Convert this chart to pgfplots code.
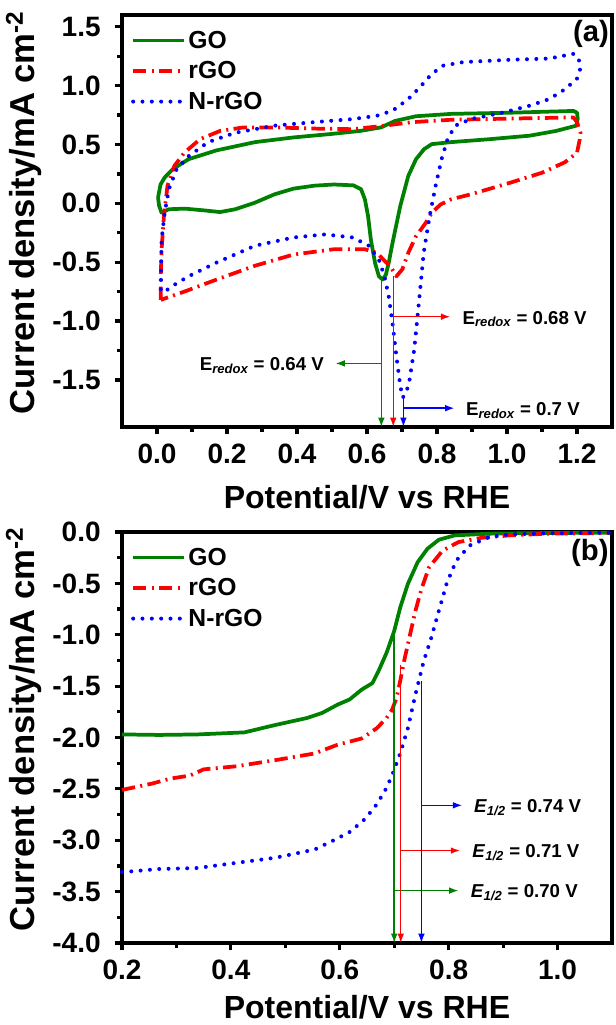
\documentclass[border=0pt]{standalone}
\usepackage{fontspec}
\setmainfont{Liberation Sans}
\usepackage{pgfplots}
\pgfplotsset{compat=1.18}
\usetikzlibrary{arrows.meta}
\definecolor{cgo}{RGB}{0,128,0}
\definecolor{crgo}{RGB}{255,0,0}
\definecolor{cnrgo}{RGB}{0,0,255}

\tikzset{
  go/.style={cgo, line width=2.8pt, line join=round},
  rgo/.style={crgo, line width=2.8pt, dash pattern=on 10pt off 4pt on 1.5pt off 4pt, line join=round},
  nrgo/.style={cnrgo, line width=3pt, line cap=round, dash pattern=on 0pt off 7pt},
  ann/.style={line width=1.1pt, -{Latex[length=7pt,width=5pt]}},
  annfont/.style={font=\bfseries\fontsize{14}{14}\selectfont},
}
\pgfplotsset{
  panel/.style={
    scale only axis, width=367.5pt, clip=false,
    axis line style={line width=3pt},
    tick align=outside, xtick pos=bottom, ytick pos=left,
    major tick length=5.5pt, minor tick length=3.5pt,
    every tick/.style={black, line width=2.4pt},
    minor tick num=1,
    tick label style={font=\bfseries\fontsize{21}{21}\selectfont},
    xticklabel style={yshift=-4pt},
    yticklabel style={xshift=-7pt},
    /pgf/number format/fixed, /pgf/number format/fixed zerofill,
    /pgf/number format/precision=1, /pgf/number format/assume math mode=true,
    xlabel style={font=\bfseries\fontsize{24}{24}\selectfont, anchor=center},
    ylabel style={font=\bfseries\fontsize{26}{26}\selectfont, at={(axis description cs:-0.2,0.52)}, anchor=center},
    legend image code/.code={\draw[##1] (0pt,0pt) -- (38pt,0pt);},
    legend style={draw=none, fill=none, at={(axis description cs:0.01,0.975)}, anchor=north west,
      font=\bfseries\fontsize{18.5}{18.5}\selectfont, row sep=4.5pt},
    legend cell align=left,
  },
}

\begin{document}
\begin{tikzpicture}
\path[use as bounding box] (0,0) rectangle (462pt,-768.75pt);

% ---------------- panel (a) ----------------
\begin{axis}[panel, at={(91.5pt,-11.25pt)}, anchor=north west, height=309pt,
  xmin=-0.1, xmax=1.3, ymin=-1.9, ymax=1.6,
  xtick={0,0.2,...,1.2}, ytick={-1.5,-1,...,1.5},
  xlabel style={at={(axis description cs:0.5,-0.17)}},
  xlabel={Potential/V vs RHE}, ylabel={Current density/mA cm\textsuperscript{-2}}]
\addplot[go] coordinates {
(0.003,0.05) (0.01,0.16) (0.022,0.22) (0.045,0.29) (0.09,0.375) (0.17,0.45) (0.28,0.52)
(0.39,0.56) (0.50,0.59) (0.58,0.615) (0.64,0.645) (0.68,0.70) (0.74,0.74) (0.84,0.76)
(1.01,0.77) (1.19,0.785) (1.2,0.77) (1.202,0.72) (1.198,0.66) (1.14,0.615) (1.065,0.575)
(0.95,0.545) (0.84,0.52) (0.785,0.503) (0.763,0.46) (0.74,0.375) (0.718,0.233) (0.695,-0.023)
(0.673,-0.335) (0.662,-0.506) (0.654,-0.605) (0.645,-0.648) (0.634,-0.62) (0.623,-0.506)
(0.611,-0.307) (0.603,-0.108) (0.594,0.034) (0.583,0.12) (0.561,0.153) (0.505,0.16)
(0.449,0.15) (0.39,0.125) (0.336,0.077) (0.28,0.006) (0.224,-0.05) (0.18,-0.074)
(0.135,-0.06) (0.08,-0.045) (0.034,-0.05) (0.013,-0.08) (0.006,-0.02) (0.003,0.05)};
\addplot[rgo] coordinates {
(0.011,-0.82) (0.011,-0.6) (0.013,-0.40) (0.02,-0.1) (0.03,0.15) (0.05,0.32) (0.078,0.43)
(0.123,0.545) (0.18,0.615) (0.247,0.645) (0.336,0.645) (0.45,0.635) (0.56,0.63) (0.65,0.66)
(0.73,0.69) (0.84,0.71) (1.01,0.72) (1.19,0.73) (1.2,0.69) (1.21,0.6) (1.208,0.545)
(1.2,0.43) (1.166,0.35) (1.1,0.26) (1.01,0.176) (0.897,0.077) (0.84,0.034) (0.81,-0.01)
(0.785,-0.08) (0.768,-0.165) (0.74,-0.28) (0.718,-0.42) (0.701,-0.56) (0.684,-0.62)
(0.67,-0.55) (0.656,-0.506) (0.628,-0.42) (0.594,-0.39) (0.505,-0.39) (0.39,-0.435)
(0.28,-0.53) (0.168,-0.65) (0.078,-0.75) (0.011,-0.82)};
\addplot[nrgo] coordinates {
(0.011,-0.73) (0.013,-0.31) (0.022,-0.08) (0.034,0.12) (0.056,0.29) (0.09,0.40) (0.146,0.52)
(0.224,0.60) (0.336,0.66) (0.449,0.69) (0.56,0.716) (0.628,0.744) (0.673,0.787) (0.718,0.886)
(0.751,0.986) (0.785,1.10) (0.818,1.17) (0.875,1.20) (1.01,1.22) (1.12,1.23) (1.19,1.27)
(1.205,1.23) (1.209,1.14) (1.2,1.06) (1.166,0.97) (1.121,0.886) (1.065,0.83) (0.987,0.77)
(0.897,0.716) (0.852,0.66) (0.83,0.545) (0.813,0.375) (0.796,0.148) (0.779,-0.108)
(0.762,-0.42) (0.749,-0.82) (0.735,-1.24) (0.72,-1.53) (0.71,-1.62) (0.702,-1.65)
(0.695,-1.55) (0.684,-1.3) (0.673,-1.02) (0.662,-0.79) (0.65,-0.62) (0.634,-0.48)
(0.605,-0.36) (0.56,-0.29) (0.48,-0.264) (0.39,-0.29) (0.28,-0.36) (0.168,-0.506)
(0.09,-0.62) (0.045,-0.70) (0.022,-0.75) (0.011,-0.73)};
\legend{GO,rGO,N-rGO}
% annotations
\draw[ann, cgo] (axis cs:0.641,-0.64) -- (axis cs:0.641,-1.9);
\draw[ann, cgo] (axis cs:0.641,-1.36) -- (axis cs:0.51,-1.36);
\draw[ann, crgo] (axis cs:0.675,-0.62) -- (axis cs:0.675,-1.9);
\draw[ann, crgo] (axis cs:0.675,-0.963) -- (axis cs:0.838,-0.963);
\draw[ann, cnrgo] (axis cs:0.704,-1.65) -- (axis cs:0.704,-1.9);
\draw[ann, cnrgo] (axis cs:0.704,-1.74) -- (axis cs:0.85,-1.74);
\node[anchor=east, annfont] at (axis cs:0.49,-1.38) {E\textsubscript{\itshape redox} = 0.64 V};
\node[anchor=west, annfont] at (axis cs:0.86,-0.983) {E\textsubscript{\itshape redox} = 0.68 V};
\node[anchor=west, annfont] at (axis cs:0.87,-1.76) {E\textsubscript{\itshape redox} = 0.7 V};
\node[font=\bfseries\fontsize{22}{22}\selectfont] at (rel axis cs:0.957,0.955) {(a)};
\end{axis}

% ---------------- panel (b) ----------------
\begin{axis}[panel, at={(91.5pt,-399pt)}, anchor=north west, height=308.25pt,
  xmin=0.2, xmax=1.1, ymin=-4, ymax=0,
  xtick={0.2,0.4,...,1.0}, ytick={-4,-3.5,...,0},
  xlabel style={at={(axis description cs:0.5,-0.157)}},
  xlabel={Potential/V vs RHE}, ylabel={Current density/mA cm\textsuperscript{-2}}]
\addplot[go] coordinates {
(0.2,-1.97) (0.268,-1.975) (0.339,-1.97) (0.425,-1.95) (0.48,-1.88) (0.54,-1.81)
(0.568,-1.76) (0.596,-1.68) (0.618,-1.63) (0.64,-1.535) (0.66,-1.47) (0.671,-1.355)
(0.686,-1.175) (0.70,-0.963) (0.711,-0.735) (0.725,-0.506) (0.743,-0.294) (0.761,-0.163)
(0.782,-0.075) (0.811,-0.033) (0.875,-0.016) (0.982,-0.01) (1.096,-0.006)};
\addplot[rgo] coordinates {
(0.2,-2.51) (0.254,-2.45) (0.289,-2.40) (0.325,-2.37) (0.35,-2.31) (0.41,-2.28)
(0.482,-2.22) (0.554,-2.155) (0.596,-2.07) (0.64,-2.01) (0.668,-1.91) (0.686,-1.81)
(0.696,-1.73) (0.704,-1.62) (0.711,-1.45) (0.718,-1.26) (0.729,-1.0) (0.739,-0.767)
(0.75,-0.555) (0.764,-0.343) (0.789,-0.18) (0.818,-0.098) (0.861,-0.056) (0.911,-0.033)
(0.982,-0.016) (1.096,-0.01)};
\addplot[nrgo] coordinates {
(0.2,-3.31) (0.268,-3.28) (0.339,-3.27) (0.41,-3.22) (0.482,-3.17) (0.554,-3.09)
(0.589,-3.0) (0.618,-2.92) (0.643,-2.81) (0.664,-2.68) (0.682,-2.53) (0.696,-2.37)
(0.711,-2.155) (0.725,-1.91) (0.739,-1.58) (0.754,-1.26) (0.768,-1.03) (0.782,-0.767)
(0.796,-0.506) (0.814,-0.278) (0.839,-0.13) (0.875,-0.049) (0.911,-0.023) (0.982,-0.013)
(1.096,-0.006)};
\legend{GO,rGO,N-rGO}
\draw[ann, cgo] (axis cs:0.70,-0.96) -- (axis cs:0.70,-4.0);
\draw[ann, cgo] (axis cs:0.70,-3.49) -- (axis cs:0.818,-3.49);
\draw[ann, crgo] (axis cs:0.712,-1.29) -- (axis cs:0.712,-4.0);
\draw[ann, crgo] (axis cs:0.712,-3.10) -- (axis cs:0.821,-3.10);
\draw[ann, cnrgo] (axis cs:0.75,-1.45) -- (axis cs:0.75,-4.0);
\draw[ann, cnrgo] (axis cs:0.75,-2.66) -- (axis cs:0.825,-2.66);
\node[anchor=west, annfont] at (axis cs:0.838,-2.68) {\textit{E}\textsubscript{\itshape 1/2} = 0.74 V};
\node[anchor=west, annfont] at (axis cs:0.835,-3.12) {\textit{E}\textsubscript{\itshape 1/2} = 0.71 V};
\node[anchor=west, annfont] at (axis cs:0.832,-3.51) {\textit{E}\textsubscript{\itshape 1/2} = 0.70 V};
\node[font=\bfseries\fontsize{22}{22}\selectfont] at (rel axis cs:0.955,0.95) {(b)};
\end{axis}
\end{tikzpicture}
\end{document}
